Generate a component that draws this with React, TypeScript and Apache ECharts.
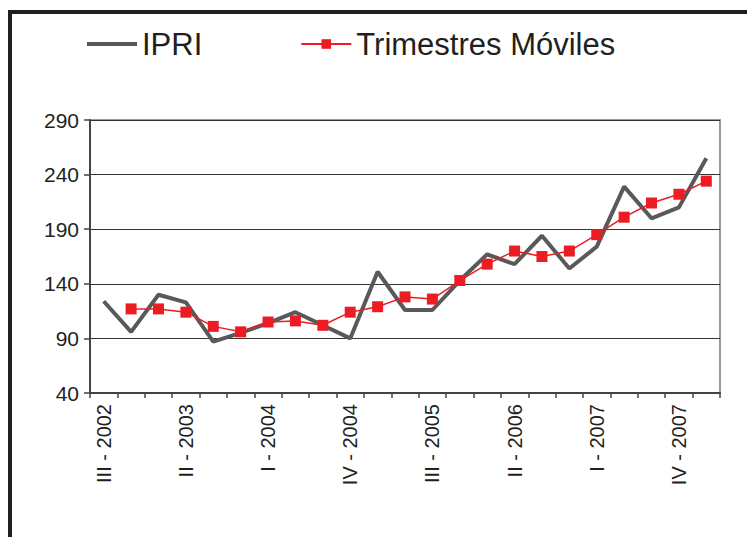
import React, { useEffect, useRef } from "react";
import * as echarts from "echarts";

const quarters: string[] = [
  "III - 2002", "IV - 2002",
  "I - 2003", "II - 2003", "III - 2003", "IV - 2003",
  "I - 2004", "II - 2004", "III - 2004", "IV - 2004",
  "I - 2005", "II - 2005", "III - 2005", "IV - 2005",
  "I - 2006", "II - 2006", "III - 2006", "IV - 2006",
  "I - 2007", "II - 2007", "III - 2007", "IV - 2007",
  "I - 2008",
];

const ipri: number[] = [
  124, 96, 130, 123, 87, 95, 104, 114, 102, 90, 151, 116,
  116, 143, 167, 158, 184, 154, 174, 229, 200, 210, 255,
];

const trimestresMoviles: (number | string)[] = [
  "-", 117, 117, 114, 101, 96, 105, 106, 102, 114, 119, 128,
  126, 143, 158, 170, 165, 170, 185, 201, 214, 222, 234,
];

const yTicks = { min: 40, max: 290, interval: 50 };

const FONT = "'Liberation Sans', Arial, Helvetica, sans-serif";

export default function App() {
  const ref = useRef<HTMLDivElement>(null);

  useEffect(() => {
    if (!ref.current) return;
    const chart = echarts.init(ref.current, undefined, { renderer: "svg" });
    chart.setOption({
      animation: false,
      backgroundColor: "#ffffff",
      textStyle: { fontFamily: FONT },
      legend: {
        left: 80,
        top: 23,
        itemWidth: 50,
        itemHeight: 12,
        itemGap: 98,
        textStyle: {
          fontSize: 31,
          color: "#231f20",
          fontFamily: FONT,
          lineHeight: 32,
        },
        data: [
          {
            name: "IPRI",
            itemStyle: { opacity: 0 },
            lineStyle: { width: 4, color: "#595959" },
          },
          {
            name: "Trimestres Móviles",
            lineStyle: { width: 2, color: "#ed1c24" },
          },
        ],
      },
      grid: {
        left: 90,
        right: 27,
        top: 120,
        bottom: 144,
        show: true,
        borderColor: "#9a9a9a",
        borderWidth: 2,
        containLabel: false,
      },
      xAxis: {
        type: "category",
        data: quarters,
        boundaryGap: true,
        axisLine: { show: true, lineStyle: { color: "#444", width: 2 } },
        axisTick: {
          show: true,
          interval: 0,
          length: 5,
          lineStyle: { color: "#444", width: 1.5 },
        },
        axisLabel: {
          interval: 2,
          rotate: 90,
          fontSize: 20,
          color: "#231f20",
          margin: 11,
          fontFamily: FONT,
        },
        splitLine: { show: false },
      },
      yAxis: {
        type: "value",
        min: yTicks.min,
        max: yTicks.max,
        interval: yTicks.interval,
        axisLine: { show: true, lineStyle: { color: "#444", width: 2 } },
        axisTick: {
          show: true,
          length: 6,
          lineStyle: { color: "#444", width: 1.5 },
        },
        axisLabel: {
          fontSize: 21,
          color: "#231f20",
          margin: 11,
          fontFamily: FONT,
        },
        splitLine: { show: true, lineStyle: { color: "#333", width: 1 } },
      },
      series: [
        {
          name: "IPRI",
          type: "line",
          data: ipri,
          symbol: "none",
          lineStyle: { color: "#595959", width: 4 },
          itemStyle: { color: "#595959" },
          z: 2,
        },
        {
          name: "Trimestres Móviles",
          type: "line",
          data: trimestresMoviles,
          symbol: "rect",
          symbolSize: 11,
          lineStyle: { color: "#ed1c24", width: 1.5 },
          itemStyle: { color: "#ed1c24" },
          z: 3,
        },
      ],
      graphic: [
        {
          type: "rect",
          shape: { x: 10, y: 12, width: 900, height: 700 },
          style: { fill: "none", stroke: "#231f20", lineWidth: 4 },
          silent: true,
        },
      ],
    });
    return () => chart.dispose();
  }, []);

  return (
    <div
      ref={ref}
      style={{ position: "fixed", left: 0, top: 0, width: 747, height: 537 }}
    />
  );
}
